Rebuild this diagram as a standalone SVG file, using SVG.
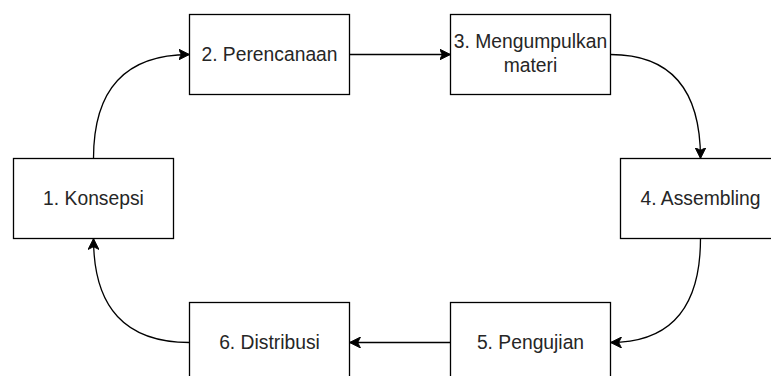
<svg xmlns="http://www.w3.org/2000/svg" width="771" height="376" viewBox="0 0 771 376">
  <defs>
    <style>
      .box { fill: #ffffff; stroke: #000000; stroke-width: 1.3; }
      .label { font-family: "Liberation Sans", Arial, Helvetica, sans-serif; font-size: 19.3px; fill: #262626; text-anchor: middle; }
      .edge { fill: none; stroke: #000000; stroke-width: 1.3; marker-end: url(#arrow); }
    </style>
    <marker id="arrow" viewBox="0 0 10 10" refX="10" refY="5" markerWidth="11" markerHeight="11" markerUnits="userSpaceOnUse" orient="auto">
      <path d="M10,5 L0,0 L2.5,5 L0,10 Z" fill="#000000" stroke="#000000" stroke-width="0.8" stroke-linejoin="miter"/>
    </marker>
  </defs>
  <rect width="771" height="376" fill="#ffffff"/>

  <g id="connectors">
    <!-- 1 -> 2 -->
    <path class="edge" d="M93.5,158.5 Q93.5,54.5 189.5,54.5"/>
    <!-- 2 -> 3 -->
    <path class="edge" d="M349.5,54.5 L450.5,54.5"/>
    <!-- 3 -> 4 -->
    <path class="edge" d="M610.5,54.5 Q700.5,54.5 700.5,158.5"/>
    <!-- 4 -> 5 -->
    <path class="edge" d="M700.5,238.5 Q700.5,342.5 610.5,342.5"/>
    <!-- 5 -> 6 -->
    <path class="edge" d="M450.5,342.5 L349.5,342.5"/>
    <!-- 6 -> 1 -->
    <path class="edge" d="M189.5,342.5 Q93.5,342.5 93.5,238.5"/>
  </g>

  <g id="node-konsepsi">
    <rect class="box" x="13.5" y="158.5" width="160" height="80"/>
    <text class="label" x="93.5" y="205">1. Konsepsi</text>
  </g>
  <g id="node-perencanaan">
    <rect class="box" x="189.5" y="14.5" width="160" height="80"/>
    <text class="label" x="269.5" y="60.5">2. Perencanaan</text>
  </g>
  <g id="node-mengumpulkan">
    <rect class="box" x="450.5" y="14.5" width="160" height="80"/>
    <text class="label" x="530.5" y="48">3. Mengumpulkan</text>
    <text class="label" x="530.5" y="71.5">materi</text>
  </g>
  <g id="node-assembling">
    <rect class="box" x="620.5" y="158.5" width="160" height="80"/>
    <text class="label" x="700.5" y="205">4. Assembling</text>
  </g>
  <g id="node-pengujian">
    <rect class="box" x="450.5" y="302.5" width="160" height="80"/>
    <text class="label" x="530.5" y="349">5. Pengujian</text>
  </g>
  <g id="node-distribusi">
    <rect class="box" x="189.5" y="302.5" width="160" height="80"/>
    <text class="label" x="269.5" y="349">6. Distribusi</text>
  </g>
</svg>
